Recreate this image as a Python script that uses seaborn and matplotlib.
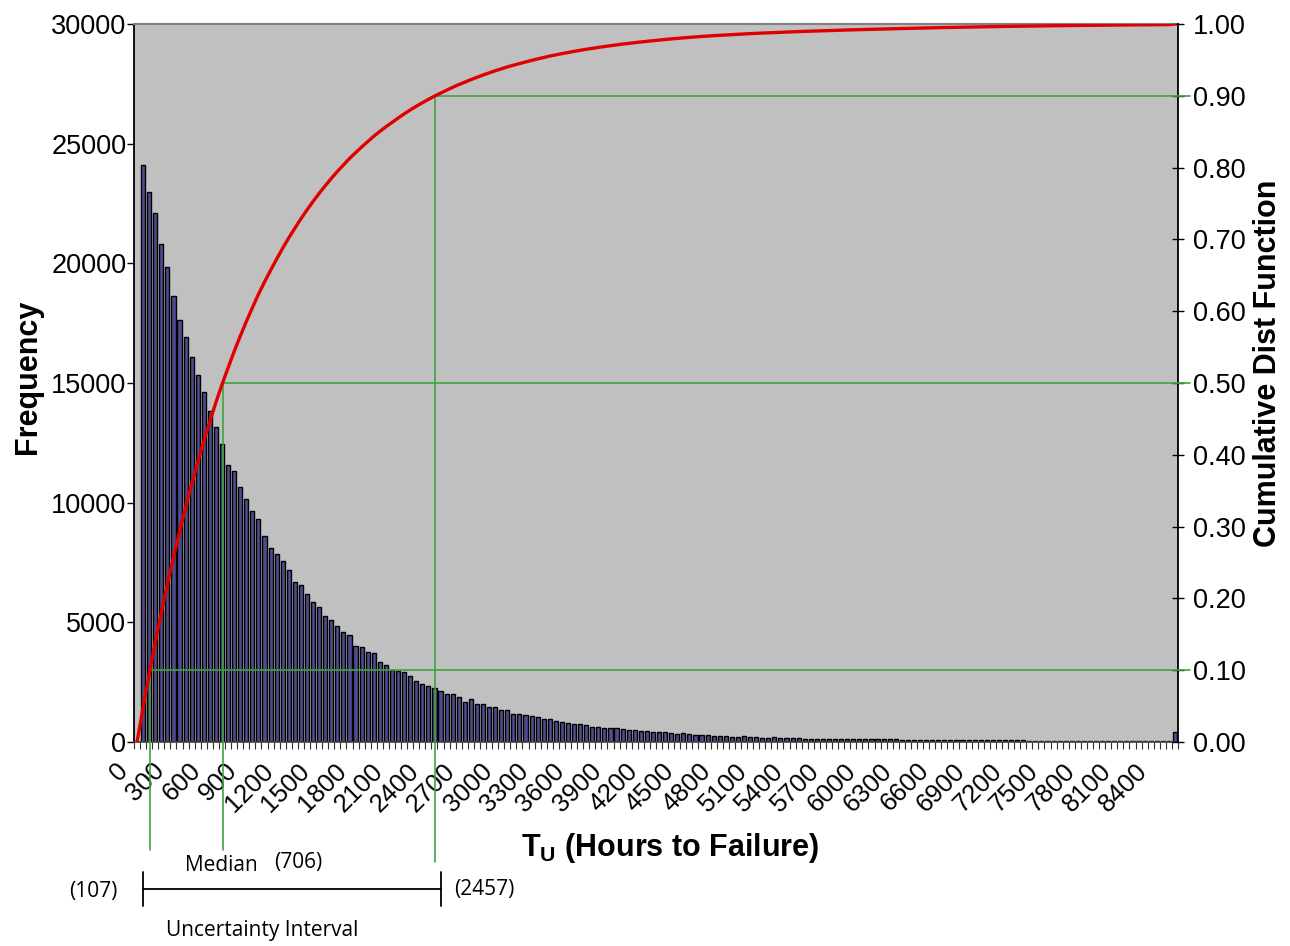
import numpy as np
import pandas as pd
import matplotlib
matplotlib.use("Agg")
import matplotlib.pyplot as plt
import seaborn as sns
from matplotlib.transforms import ScaledTranslation
from matplotlib.lines import Line2D

sns.set_theme(style="ticks")
plt.rcParams["font.family"] = ["Liberation Sans", "DejaVu Sans"]
plt.rcParams["mathtext.fontset"] = "custom"
plt.rcParams["mathtext.bf"] = "Liberation Sans:bold"
plt.rcParams["mathtext.rm"] = "Liberation Sans"
for k in ["text.color", "axes.labelcolor", "xtick.color", "ytick.color"]:
    plt.rcParams[k] = "black"

# ---------------- data ----------------
bin_hours = list(range(0, 8551, 50))          # 172 histogram bins (50 h wide)
frequency = [0,
    24100, 22970, 22106, 20823, 19863, 18638, 17635, 16925, 16102, 15350,
    14640, 13832, 13177, 12453, 11554, 11316, 10647, 10146, 9644, 9310,
    8587, 8098, 7847, 7569, 7179, 6706, 6552, 6163, 5841, 5649,
    5285, 5090, 4839, 4588, 4478, 4018, 3961, 3752, 3710, 3349,
    3238, 3029, 2987, 2932, 2749, 2556, 2444, 2347, 2249, 2123,
    2014, 1998, 1886, 1679, 1788, 1608, 1608, 1454, 1470, 1328,
    1357, 1190, 1161, 1120, 1093, 1036, 981, 981, 870, 828,
    814, 772, 744, 702, 647, 647, 598, 580, 580, 560,
    505, 494, 466, 452, 438, 438, 410, 396, 354, 368,
    340, 312, 312, 299, 257, 257, 243, 229, 229, 243,
    215, 201, 187, 187, 215, 159, 159, 159, 173, 145,
    145, 140, 145, 135, 130, 130, 125, 125, 120, 118,
    115, 115, 110, 108, 106, 104, 102, 100, 98, 96,
    94, 92, 90, 88, 86, 84, 82, 80, 78, 76,
    74, 72, 70, 68, 66, 64, 62, 60, 58, 56,
    54, 52, 50, 49, 48, 46, 45, 44, 42, 41,
    40, 39, 38, 37, 36, 35, 34, 33, 32, 31,
    420]
cdf_levels = [0.1, 0.5, 0.9]
guide_labels = ["(107)", "(706)", "(2457)"]
left_ticks = [0, 5000, 10000, 15000, 20000, 25000, 30000]
right_ticks = [0.0, 0.1, 0.2, 0.3, 0.4, 0.5, 0.6, 0.7, 0.8, 0.9, 1.0]
label_every = 6

# ---------------- derived ----------------
df = pd.DataFrame({"hours": [str(h) for h in bin_hours], "freq": frequency})
pos = np.arange(len(bin_hours))
cdf = np.cumsum(frequency) / np.sum(frequency)

W, H = 1290, 946
fig = plt.figure(figsize=(W / 100, H / 100), dpi=100)
fig.patch.set_facecolor("white")
L, R, T, B = 134, 1178, 24, 742
ax = fig.add_axes([L / W, 1 - B / H, (R - L) / W, (B - T) / H])
ax.set_facecolor("#C0C0C0")

sns.barplot(data=df, x="hours", y="freq", order=list(df["hours"]),
            color="#4C4C8E", saturation=1, edgecolor="black",
            linewidth=1.0, width=0.68, ax=ax)
ax.set_xlim(-0.5, len(pos) - 0.5)
ax.set_ylim(0, 30000)
ax.set_xlabel("")
ax.set_ylabel("")

ax.set_yticks(left_ticks)
ax.set_yticklabels([str(v) for v in left_ticks])
ax.tick_params(axis="y", which="major", length=5, width=1, pad=0.5,
               labelsize=19.5, color="black", direction="out")

ax.set_xticks(pos[::label_every])
ax.set_xticklabels([str(bin_hours[i]) for i in pos[::label_every]],
                   rotation=45, ha="right", va="center",
                   rotation_mode="anchor")
ax.set_xticks(np.arange(-0.5, len(pos), 1), minor=True)
ax.tick_params(axis="x", which="major", length=0, pad=0, labelsize=18.5)
ax.tick_params(axis="x", which="minor", length=5, width=0.8,
               color="#303030", direction="out")
off = ScaledTranslation(-13 / 100, -25 / 100, fig.dpi_scale_trans)
for lab in ax.get_xticklabels():
    lab.set_transform(lab.get_transform() + off)

ax.spines["left"].set_color("black")
ax.spines["left"].set_linewidth(1.3)
ax.spines["top"].set_color("#808080")
ax.spines["top"].set_linewidth(1.5)
ax.spines["bottom"].set_color("#404040")
ax.spines["bottom"].set_linewidth(1.2)
ax.spines["right"].set_visible(False)

# ---------------- CDF on the right axis ----------------
ax2 = ax.twinx()
sns.lineplot(x=pos, y=cdf, color="#E00000", linewidth=2.4, ax=ax2,
             sort=False, zorder=5)
ax2.set_ylim(0, 1)
ax2.set_xlim(-0.5, len(pos) - 0.5)
ax2.set_yticks(right_ticks)
ax2.set_yticklabels([f"{v:.2f}" for v in right_ticks])
ax2.tick_params(axis="y", which="major", length=8, width=1, pad=7,
                labelsize=19.5, color="black", direction="inout")
ax2.set_ylabel("")
for s in ["left", "top", "bottom"]:
    ax2.spines[s].set_visible(False)
ax2.spines["right"].set_color("black")
ax2.spines["right"].set_linewidth(1.3)

green = "#3FA33F"
guide_bottom = [-0.150, -0.150, -0.167]
x_end = len(pos) - 0.5 + 2.0
for lev, yb in zip(cdf_levels, guide_bottom):
    xc = float(np.interp(lev, cdf, pos))
    ax2.plot([xc, xc], [lev, yb], color=green, lw=1.2, clip_on=False, zorder=4)
    ax2.plot([xc, x_end], [lev, lev], color=green, lw=1.2, clip_on=False, zorder=4)

# ---------------- axis titles ----------------
fig.text(28 / W, 1 - 377 / H, "Frequency", rotation=90, ha="center",
         va="center", fontsize=22, fontweight="bold")
fig.text(1268 / W, 1 - 363 / H, "Cumulative Dist Function", rotation=90,
         ha="center", va="center", fontsize=22, fontweight="bold")
fig.text(670 / W, 1 - 848 / H, r"$\mathbf{T}_{\mathbf{U}}$ (Hours to Failure)",
         ha="center", va="center", fontsize=22, fontweight="bold")

# ---------------- uncertainty interval annotation ----------------
afont = ["Open Sans", "DejaVu Sans"]
fs = 15
fig.text(221 / W, 1 - 865 / H, "Median", ha="center", va="center",
         fontsize=fs, family=afont)
fig.text(298 / W, 1 - 862 / H, guide_labels[1], ha="center", va="center",
         fontsize=fs, family=afont)
fig.text(93 / W, 1 - 891 / H, guide_labels[0], ha="center", va="center",
         fontsize=fs, family=afont)
fig.text(484 / W, 1 - 889 / H, guide_labels[2], ha="center", va="center",
         fontsize=fs, family=afont)
fig.text(262 / W, 1 - 930 / H, "Uncertainty Interval", ha="center",
         va="center", fontsize=fs, family=afont)

fig.add_artist(Line2D([143 / W, 441 / W], [1 - 889 / H, 1 - 889 / H],
                      transform=fig.transFigure, color="black", lw=1.3))
for xe in (143, 441):
    fig.add_artist(Line2D([xe / W, xe / W], [1 - 872 / H, 1 - 906 / H],
                          transform=fig.transFigure, color="black", lw=1.3))

fig.savefig("out.png", dpi=100, facecolor="white")
